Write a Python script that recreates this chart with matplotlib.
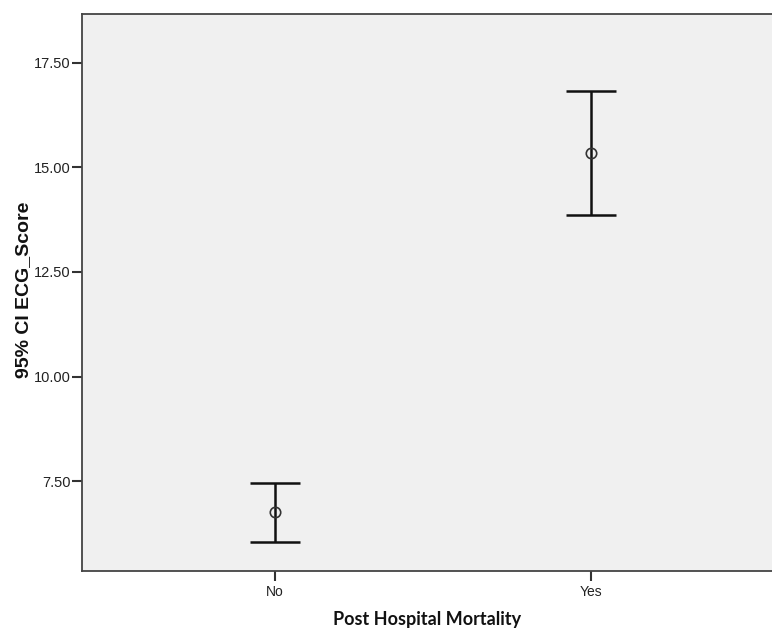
import matplotlib
matplotlib.use("Agg")
import matplotlib.pyplot as plt
import numpy as np

categories = ["No", "Yes"]
means = [6.76, 15.34]
ci_lower = [6.06, 13.86]
ci_upper = [7.46, 16.83]
y_ticks = [7.5, 10.0, 12.5, 15.0, 17.5]
y_tick_labels = ["7.50", "10.00", "12.50", "15.00", "17.50"]

fig = plt.figure(figsize=(7.72, 6.3), dpi=100)
ax = fig.add_axes([82/772, 59/630, 1 - 82/772, (571-14)/630])
ax.set_facecolor("#f0f0f0")

x = np.arange(len(categories))
m = np.array(means)
lo = m - np.array(ci_lower)
hi = np.array(ci_upper) - m
ax.errorbar(x, m, yerr=[lo, hi], fmt="none", ecolor="#111111", elinewidth=1.8,
            capsize=17.8, capthick=1.8, zorder=2)
ax.plot(x, m, linestyle="none", marker="o", markersize=7.5, markerfacecolor="none",
        markeredgecolor="#333333", markeredgewidth=1.2, zorder=3)

ax.set_xlim(-0.611, 1.572)
ax.set_ylim(5.36, 18.66)
ax.set_xticks(x)
ax.set_xticklabels(categories, fontfamily="Liberation Sans", fontsize=10, color="#222222")
ax.set_yticks(y_ticks)
ax.set_yticklabels(y_tick_labels, fontfamily="Liberation Sans", fontsize=10.5, color="#222222")
ax.tick_params(axis="y", direction="out", length=7, width=1.5, color="#333333", pad=1)
ax.tick_params(axis="x", direction="out", length=7, width=1.5, color="#333333", pad=3)

for s in ["left", "bottom", "top"]:
    ax.spines[s].set_color("#444444")
    ax.spines[s].set_linewidth(1.3)
ax.spines["right"].set_visible(False)

fig.text(24/772, 1 - 290/630, "95% CI ECG_Score", fontfamily="Liberation Sans",
         fontweight="bold", fontsize=14, color="#111111", rotation=90,
         ha="center", va="center")
fig.text((82+772)/2/772, 1 - 619/630, "Post Hospital Mortality", fontfamily="Lato",
         fontweight="bold", fontsize=13, color="#111111", ha="center", va="center")

fig.savefig("out.png", dpi=100)
